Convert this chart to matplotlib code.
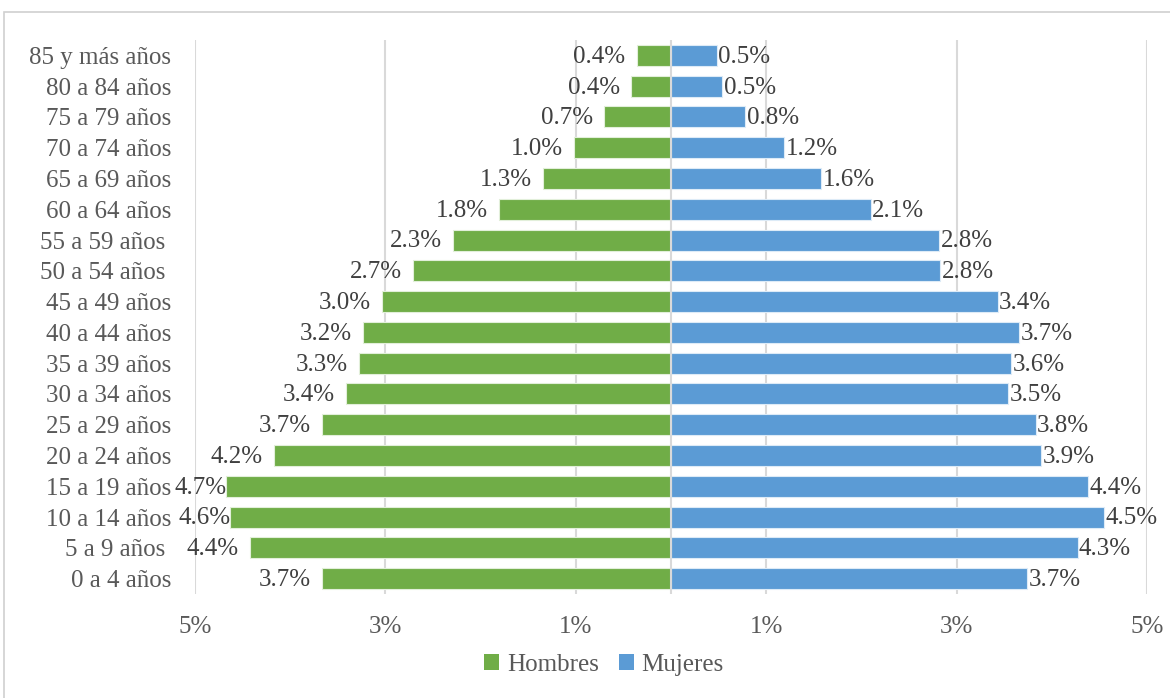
import matplotlib.pyplot as plt
from matplotlib.patches import Rectangle, Patch

# Datos de la pirámide (porcentaje de la población)
grupos = [
    "0 a 4 años", "5 a 9 años ", "10 a 14 años", "15 a 19 años", "20 a 24 años",
    "25 a 29 años", "30 a 34 años", "35 a 39 años", "40 a 44 años", "45 a 49 años",
    "50 a 54 años ", "55 a 59 años ", "60 a 64 años", "65 a 69 años", "70 a 74 años",
    "75 a 79 años", "80 a 84 años", "85 y más años",
]
hombres = [3.67, 4.42, 4.63, 4.67, 4.17, 3.67, 3.41, 3.28, 3.24, 3.04,
           2.71, 2.29, 1.81, 1.34, 1.02, 0.70, 0.42, 0.36]
mujeres = [3.74, 4.27, 4.55, 4.38, 3.89, 3.83, 3.54, 3.57, 3.66, 3.43,
           2.83, 2.82, 2.10, 1.58, 1.19, 0.78, 0.54, 0.48]
ticks = [-5, -3, -1, 1, 3, 5]
tick_labels = ["5%", "3%", "1%", "1%", "3%", "5%"]

VERDE = "#70AD47"
AZUL = "#5B9BD5"
GRIS_TXT = "#595959"
GRIS_VAL = "#404040"
GRID = "#D9D9D9"
FS = 18

plt.rcParams["font.family"] = ["Liberation Serif", "DejaVu Serif"]

fig = plt.figure(figsize=(11.7, 6.98), dpi=100)
W, H = 1170, 698
ax = fig.add_axes([195 / W, 1 - 594 / H, (1147 - 195) / W, (594 - 40) / H])

# marco del gráfico
fig.patches.append(Rectangle((4 / W, -0.1), 1.2, 1.1 - 12 / H, transform=fig.transFigure,
                             fill=False, edgecolor="#D0D0D0", linewidth=1.2))

y = list(range(len(grupos)))
ax.barh(y, [-v for v in hombres], height=0.68, color=VERDE,
        edgecolor="#E2EFDA", linewidth=0.8, zorder=3)
ax.barh(y, mujeres, height=0.68, color=AZUL,
        edgecolor="#DDEBF7", linewidth=0.8, zorder=3)

for yi, h, m in zip(y, hombres, mujeres):
    # las barras más largas llevan la etiqueta pegada para no chocar con el eje
    dx = 0 if h > 4.5 else -8
    ax.annotate(f"{h:.1f}%", (-h, yi), xytext=(dx, -1), textcoords="offset points",
                ha="right", va="center", fontsize=FS, color=GRIS_VAL)
    ax.annotate(f"{m:.1f}%", (m, yi), xytext=(1, -1), textcoords="offset points",
                ha="left", va="center", fontsize=FS, color=GRIS_VAL)

ax.set_xlim(-5, 5)
ax.set_ylim(-0.5, len(grupos) - 0.5)
ax.set_xticks(ticks)
ax.set_xticklabels(tick_labels, fontsize=FS, color=GRIS_TXT)
ax.set_yticks(y)
ax.set_yticklabels(grupos, fontsize=FS, color=GRIS_TXT)
ax.tick_params(axis="both", length=0)
ax.tick_params(axis="y", pad=17)
ax.tick_params(axis="x", pad=16)

for t in ticks:
    ax.axvline(t, color=GRID, linewidth=1.5, zorder=1)
ax.axvline(0, color=GRID, linewidth=1.5, zorder=4)

for s in ax.spines.values():
    s.set_visible(False)

handles = [Patch(facecolor=VERDE, label="Hombres"), Patch(facecolor=AZUL, label="Mujeres")]
fig.legend(handles=handles, loc="center", bbox_to_anchor=(604 / W, 1 - 665 / H), ncol=2,
           frameon=False, fontsize=FS, handlelength=0.6, handleheight=0.6,
           handletextpad=0.3, columnspacing=0.8, labelcolor=GRIS_TXT)

fig.savefig("out.png", dpi=100)
